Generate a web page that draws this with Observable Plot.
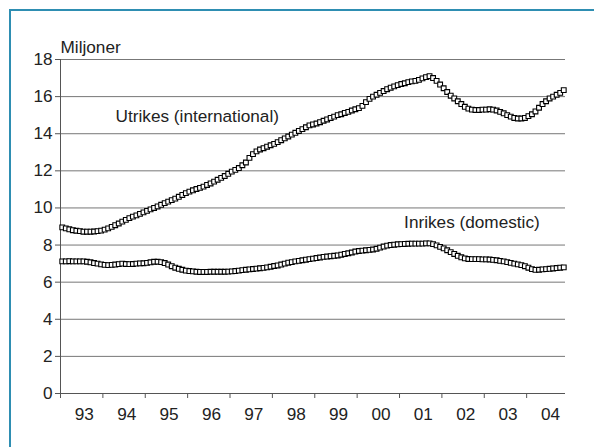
<!DOCTYPE html>
<html>
<head>
<meta charset="utf-8">
<script src="https://cdn.jsdelivr.net/npm/d3@7"></script>
<script src="https://cdn.jsdelivr.net/npm/@observablehq/plot@0.6"></script>
<style>
  html, body { margin: 0; padding: 0; background: #fff; }
  #wrap { position: relative; width: 594px; height: 447px; overflow: hidden; }
  #frame { position: absolute; left: 9px; top: 9px; right: -5px; bottom: -5px;
           border-left: 2.5px solid #2e8eb2; border-top: 2.5px solid #2e8eb2; pointer-events: none; }
</style>
</head>
<body>
<div id="wrap"><div id="frame"></div></div>
<script>
// Year labels (category axis, monthly data Jan 1993 – Nov 2004)
const yearLabels = ["93","94","95","96","97","98","99","00","01","02","03","04"];
const yTicks = [0, 2, 4, 6, 8, 10, 12, 14, 16, 18];

// Utrikes (international), millions, monthly
const utrikes = [
  8.95, 8.90, 8.85, 8.80, 8.77, 8.75, 8.72, 8.72, 8.72, 8.73, 8.75, 8.78,
  8.83, 8.90, 8.98, 9.07, 9.16, 9.26, 9.36, 9.45, 9.53, 9.60, 9.68, 9.76,
  9.84, 9.92, 10.00, 10.08, 10.17, 10.26, 10.34, 10.42, 10.50, 10.60, 10.70, 10.80,
  10.88, 10.95, 11.02, 11.08, 11.15, 11.24, 11.32, 11.42, 11.52, 11.62, 11.72, 11.84,
  11.96, 12.05, 12.15, 12.30, 12.45, 12.70, 12.90, 13.05, 13.15, 13.22, 13.30, 13.38,
  13.45, 13.55, 13.65, 13.75, 13.85, 13.95, 14.05, 14.15, 14.25, 14.35, 14.45, 14.50,
  14.55, 14.62, 14.70, 14.77, 14.85, 14.92, 15.00, 15.05, 15.12, 15.18, 15.25, 15.32,
  15.38, 15.50, 15.70, 15.88, 16.00, 16.10, 16.20, 16.30, 16.40, 16.48, 16.55, 16.62,
  16.68, 16.72, 16.78, 16.82, 16.85, 16.90, 16.98, 17.05, 17.10, 17.00, 16.85, 16.65,
  16.45, 16.25, 16.05, 15.90, 15.75, 15.60, 15.45, 15.35, 15.30, 15.28, 15.28, 15.30,
  15.30, 15.32, 15.30, 15.25, 15.18, 15.10, 15.00, 14.92, 14.85, 14.82, 14.82, 14.85,
  14.95, 15.05, 15.20, 15.40, 15.60, 15.75, 15.90, 16.00, 16.10, 16.20, 16.35
];

// Inrikes (domestic), millions, monthly
const inrikes = [
  7.12, 7.12, 7.13, 7.12, 7.12, 7.12, 7.12, 7.10, 7.07, 7.03, 7.00, 6.96,
  6.93, 6.92, 6.93, 6.95, 6.97, 7.00, 6.98, 6.97, 6.98, 7.00, 7.01, 7.02,
  7.04, 7.07, 7.10, 7.10, 7.08, 7.03, 6.95, 6.86, 6.78, 6.72, 6.67, 6.62,
  6.60, 6.58, 6.56, 6.55, 6.55, 6.55, 6.56, 6.56, 6.56, 6.56, 6.56, 6.57,
  6.58, 6.60, 6.62, 6.65, 6.67, 6.69, 6.71, 6.73, 6.75, 6.77, 6.80, 6.83,
  6.87, 6.90, 6.95, 7.00, 7.05, 7.08, 7.12, 7.15, 7.18, 7.21, 7.24, 7.27,
  7.30, 7.33, 7.36, 7.38, 7.40, 7.42, 7.44, 7.48, 7.52, 7.56, 7.60, 7.65,
  7.68, 7.70, 7.72, 7.74, 7.76, 7.80, 7.86, 7.92, 7.97, 8.00, 8.02, 8.04,
  8.05, 8.06, 8.07, 8.08, 8.08, 8.08, 8.08, 8.09, 8.09, 8.05, 7.98, 7.90,
  7.82, 7.72, 7.62, 7.52, 7.42, 7.34, 7.28, 7.25, 7.24, 7.24, 7.24, 7.23,
  7.23, 7.22, 7.20, 7.18, 7.15, 7.12, 7.08, 7.04, 7.00, 6.96, 6.92, 6.86,
  6.78, 6.70, 6.66, 6.67, 6.69, 6.70, 6.72, 6.74, 6.76, 6.78, 6.80
];

const nMonths = utrikes.length;
const rows = [
  ...utrikes.map((v, i) => ({ series: "Utrikes", i, v })),
  ...inrikes.map((v, i) => ({ series: "Inrikes", i, v }))
];
const yearStarts = yearLabels.map((_, k) => 12 * k);
const yearMids = yearLabels.map((_, k) => 12 * k + 6.75);
const labelOf = new Map(yearMids.map((m, k) => [m, yearLabels[k]]));

const font = "'Liberation Sans', Arial, Helvetica, sans-serif";
const fs = 17.2;

const chart = Plot.plot({
  width: 594,
  height: 447,
  marginLeft: 60,
  marginRight: 29,
  marginTop: 59,
  marginBottom: 54,
  x: { domain: [0, nMonths], axis: null, label: null },
  y: { domain: [0, 18], axis: null, label: null },
  style: { fontFamily: font, fontSize: fs + "px", color: "#222", background: "transparent" },
  marks: [
    Plot.gridY(yTicks, { stroke: "#777", strokeOpacity: 1, strokeWidth: 1 }),
    Plot.ruleX([0], { y1: 0, y2: 18, stroke: "#555" }),
    Plot.ruleY([0], { stroke: "#555" }),
    Plot.axisY(yTicks, { tickSize: 5, tickPadding: 3, stroke: "#555", fill: "#222", fontSize: fs, label: null }),
    Plot.axisX(yearStarts, { tickSize: 5, tickFormat: () => "", stroke: "#555", label: null }),
    Plot.axisX(yearMids, { tickSize: 0, tickPadding: 14, tickFormat: d => labelOf.get(d), fill: "#222", fontSize: fs, label: null }),
    Plot.line(rows, { x: d => d.i + 0.5, y: "v", z: "series", stroke: "black", strokeWidth: 1.5 }),
    Plot.dot(rows, { x: d => d.i + 0.5, y: "v", symbol: "square", r: 2.7, fill: "white", stroke: "black", strokeWidth: 1.1 }),
    Plot.text(["Miljoner"], { x: 0, y: 18, dy: -12, text: d => d, textAnchor: "start", fill: "#222", fontSize: fs }),
    Plot.text(["Utrikes (international)"], { x: 15.6, y: 14.95, text: d => d, textAnchor: "start", fill: "#222", fontSize: fs }),
    Plot.text(["Inrikes (domestic)"], { x: 97.3, y: 9.24, text: d => d, textAnchor: "start", fill: "#222", fontSize: fs })
  ]
});
chart.style.position = "absolute";
chart.style.left = "0";
chart.style.top = "0";
document.getElementById("wrap").prepend(chart);
</script>
</body>
</html>
